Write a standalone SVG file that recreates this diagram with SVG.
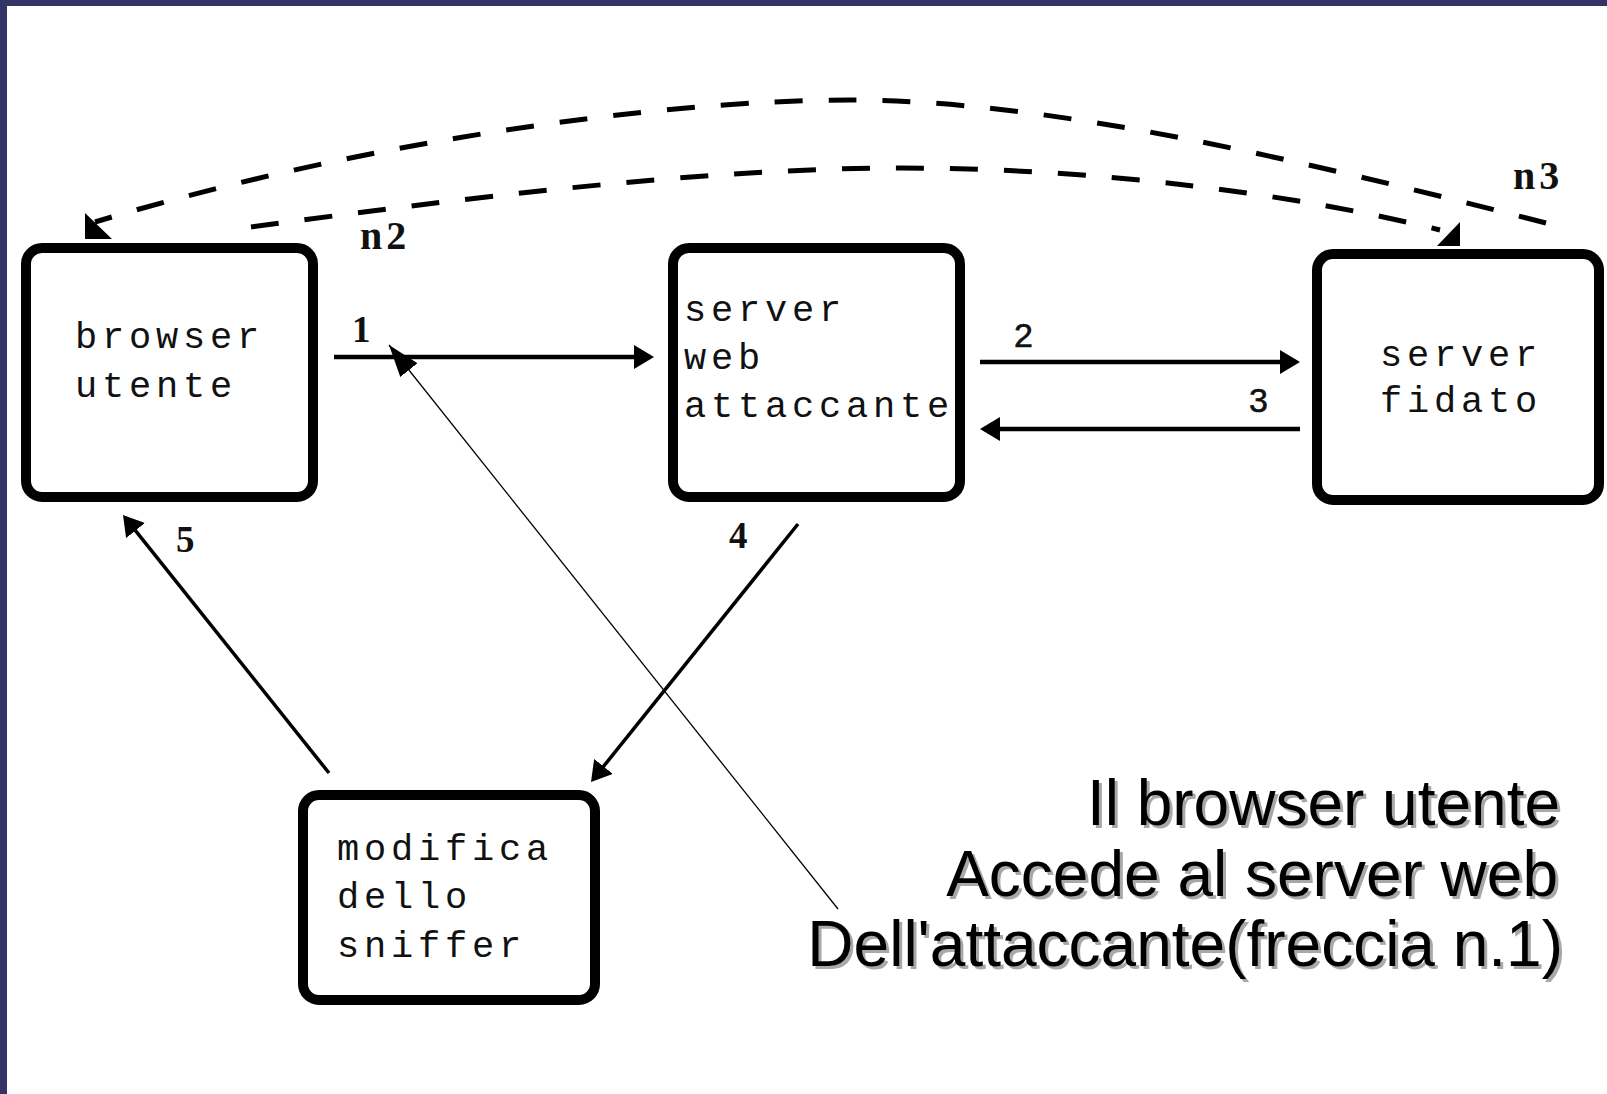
<svg xmlns="http://www.w3.org/2000/svg" width="1607" height="1094" viewBox="0 0 1607 1094">
  <style>
    .box { fill: #ffffff; stroke: #000000; stroke-width: 10; }
    .mono { font-family: "Liberation Mono", "Courier New", monospace; font-size: 37px; letter-spacing: 4.8px; fill: #111111; }
    .num { font-family: "Liberation Sans", Arial, sans-serif; font-size: 34px; fill: #111111; stroke: #111111; stroke-width: 0.6; }
    .numb { font-family: "Liberation Serif", "Times New Roman", serif; font-weight: bold; font-size: 37px; fill: #111111; }
    .tag { font-family: "Liberation Serif", "Times New Roman", serif; font-weight: bold; font-size: 40px; letter-spacing: 4px; fill: #111111; }
    .thick { stroke: #000000; stroke-width: 4.5; fill: none; }
    .mid { stroke: #000000; stroke-width: 3.5; fill: none; }
    .thin { stroke: #000000; stroke-width: 1.3; fill: none; }
    .dash { stroke: #000000; stroke-width: 5; fill: none; stroke-dasharray: 28 26; }
    .caption { font-family: "Liberation Sans", Arial, sans-serif; font-size: 64px; text-anchor: end; }
  </style>
  <defs>
    <marker id="head" markerUnits="userSpaceOnUse" markerWidth="22" markerHeight="26" refX="16" refY="12" orient="auto">
      <path d="M0,0 L20,12 L0,24 z" fill="#000000"/>
    </marker>
    <marker id="head-thin" markerUnits="userSpaceOnUse" markerWidth="34" markerHeight="24" refX="32" refY="11" orient="auto">
      <path d="M0,0 L32,11 L0,22 z" fill="#000000"/>
    </marker>
  </defs>

  <!-- slide frame -->
  <rect x="0" y="0" width="1607" height="1094" fill="#333366"/>
  <rect x="7" y="6" width="1600" height="1088" fill="#ffffff"/>

  <!-- connectors -->
  <g id="connectors">
    <!-- dashed return path n3 (server fidato -> browser) -->
    <path class="dash" d="M1546,223 C1300,160 1050,100 850,100 C650,100 350,145 95,222"/>
    <polygon points="85,213 85,239 112,239" fill="#000000"/>
    <!-- dashed path n2 (browser -> server fidato) -->
    <path class="dash" d="M251,227 C450,200 700,168 900,168 C1100,168 1300,195 1440,230"/>
    <polygon points="1460,222 1460,246 1437,246" fill="#000000"/>

    <line class="thick" x1="334" y1="357" x2="650" y2="357" marker-end="url(#head)"/>
    <line class="thick" x1="980" y1="362" x2="1296" y2="362" marker-end="url(#head)"/>
    <line class="thick" x1="1300" y1="429" x2="984" y2="429" marker-end="url(#head)"/>
    <line class="mid" x1="798" y1="524" x2="593.5" y2="778.9" marker-end="url(#head)"/>
    <line class="mid" x1="329" y1="773" x2="125.5" y2="518.1" marker-end="url(#head)"/>
    <line class="thin" x1="838" y1="909" x2="389" y2="345" marker-end="url(#head-thin)"/>

    <text class="numb" x="352" y="342">1</text>
    <text class="num" x="1014" y="347">2</text>
    <text class="num" x="1249" y="412">3</text>
    <text class="numb" x="729" y="548">4</text>
    <text class="numb" x="176" y="552">5</text>
    <text class="tag" x="360" y="249">n2</text>
    <text class="tag" x="1513" y="189">n3</text>
  </g>

  <!-- nodes -->
  <g id="browser-utente">
    <rect class="box" x="26" y="248" width="287" height="249" rx="16"/>
    <text class="mono" x="75" y="348">browser</text>
    <text class="mono" x="75" y="397">utente</text>
  </g>
  <g id="server-web-attaccante">
    <rect class="box" x="673" y="248" width="287" height="249" rx="16"/>
    <text class="mono" x="684" y="321">server</text>
    <text class="mono" x="684" y="369">web</text>
    <text class="mono" x="684" y="417">attaccante</text>
  </g>
  <g id="server-fidato">
    <rect class="box" x="1317" y="254" width="282" height="246" rx="16"/>
    <text class="mono" x="1380" y="366">server</text>
    <text class="mono" x="1380" y="412">fidato</text>
  </g>
  <g id="modifica-sniffer">
    <rect class="box" x="303" y="795" width="292" height="205" rx="16"/>
    <text class="mono" x="337" y="860">modifica</text>
    <text class="mono" x="337" y="908">dello</text>
    <text class="mono" x="337" y="957">sniffer</text>
  </g>

  <!-- caption with drop shadow -->
  <g id="caption">
    <g fill="#a8a8a8" transform="translate(3,3)">
      <text class="caption" x="1560" y="825">Il browser utente</text>
      <text class="caption" x="1558" y="896">Accede al server web</text>
      <text class="caption" x="1563" y="966">Dell'attaccante(freccia n.1)</text>
    </g>
    <g fill="#000000">
      <text class="caption" x="1560" y="825">Il browser utente</text>
      <text class="caption" x="1558" y="896">Accede al server web</text>
      <text class="caption" x="1563" y="966">Dell'attaccante(freccia n.1)</text>
    </g>
  </g>
</svg>
